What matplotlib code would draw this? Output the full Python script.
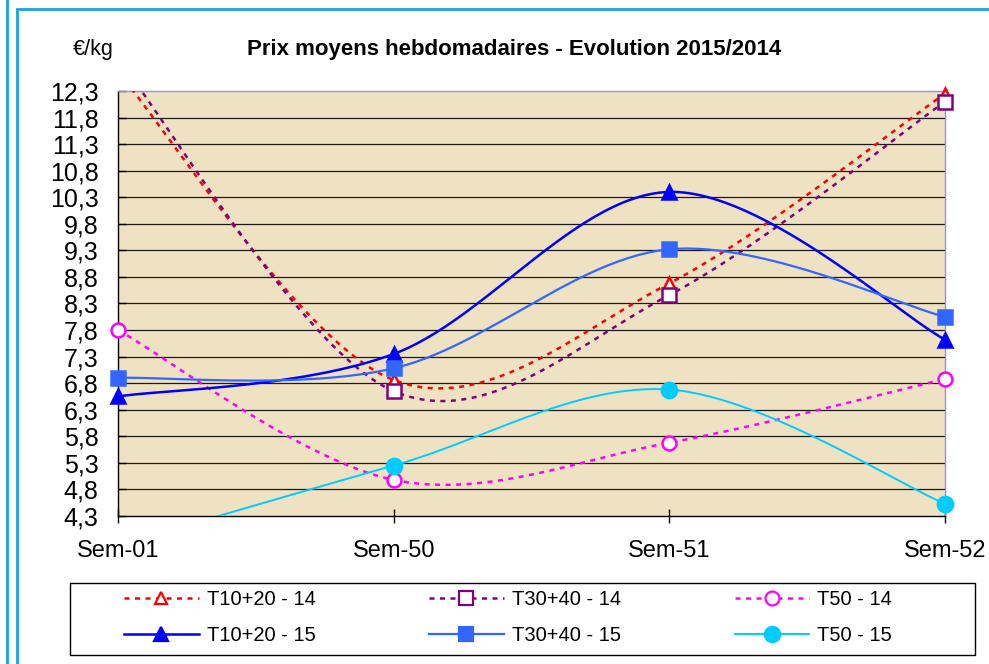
import matplotlib
matplotlib.use("Agg")
import matplotlib.pyplot as plt
from matplotlib.lines import Line2D
from matplotlib.patches import Rectangle
import numpy as np

plt.rcParams['font.family'] = ['Liberation Sans', 'DejaVu Sans']

weeks = ['Sem-01', 'Sem-50', 'Sem-51', 'Sem-52']
t1020_14 = [12.65, 6.86, 8.68, 12.25]
t3040_14 = [12.9, 6.65, 8.46, 12.1]
t50_14 = [7.8, 4.98, 5.68, 6.88]
t1020_15 = [6.55, 7.35, 10.4, 7.62]
t3040_15 = [6.9, 7.08, 9.32, 8.05]
t50_15 = [3.75, 5.25, 6.68, 4.53]

yticks = np.arange(4.3, 12.31, 0.5)
ymin, ymax = 4.3, 12.3


def smooth(y, n=60):
    # Excel-like smoothed line: bezier segments with catmull-rom tangents
    p = np.column_stack([np.arange(len(y)), y]).astype(float)
    xs, ys = [], []
    for i in range(len(p) - 1):
        p0 = p[i - 1] if i > 0 else p[i]
        p3 = p[i + 2] if i + 2 < len(p) else p[i + 1]
        c1 = p[i] + (p[i + 1] - p0) / 6
        c2 = p[i + 1] - (p3 - p[i]) / 6
        t = np.linspace(0, 1, n)[:, None]
        b = ((1 - t) ** 3) * p[i] + 3 * ((1 - t) ** 2) * t * c1 + 3 * (1 - t) * t ** 2 * c2 + t ** 3 * p[i + 1]
        xs.extend(b[:, 0])
        ys.extend(b[:, 1])
    return xs, ys


fig = plt.figure(figsize=(9.89, 6.64), dpi=100)
ax = fig.add_axes([118 / 989, 1 - 516 / 664, 827 / 989, 425 / 664])
ax.set_facecolor('#EFE2C3')

# outer blue frame
fig.add_artist(Line2D([7 / 989, 7 / 989], [0, 1], color='#1BA1E2', lw=2, transform=fig.transFigure))
fig.add_artist(Rectangle((17 / 989, -0.1), 1.2, 1 - 9 / 664 + 0.1, fill=False,
                         edgecolor='#1BA1E2', lw=2, transform=fig.transFigure))

for v in yticks[1:-1]:
    ax.axhline(v, color='#1a1a1a', lw=0.9, zorder=1)

series = [
    (t1020_14, 'T10+20 - 14', '#FF0000', (0, (2, 2.2)), 1.8, '^', 'white', 9),
    (t3040_14, 'T30+40 - 14', '#800080', (0, (2, 2.2)), 1.8, 's', 'white', 10),
    (t50_14, 'T50 - 14', '#FF00FF', (0, (2, 2.2)), 1.8, 'o', 'white', 10),
    (t1020_15, 'T10+20 - 15', '#0000FF', '-', 1.8, '^', '#0000FF', 10),
    (t3040_15, 'T30+40 - 15', '#3366FF', '-', 1.6, 's', '#3366FF', 10),
    (t50_15, 'T50 - 15', '#00CCFF', '-', 1.4, 'o', '#00CCFF', 11),
]

handles = {}
for vals, label, col, ls, lw, mk, mfc, ms in series:
    sx, sy = smooth(vals)
    ax.plot(sx, sy, color=col, ls=ls, lw=lw, zorder=3)
    # markers outside the value range are hidden, the others are drawn unclipped
    vis = np.array([v if ymin <= v <= ymax else np.nan for v in vals])
    ax.plot(range(len(vals)), vis, ls='none', marker=mk, ms=ms, mfc=mfc,
            mec=col, mew=1.8, zorder=4, clip_on=False)
    handles[label] = Line2D([], [], color=col, ls=ls, lw=lw, marker=mk, ms=ms,
                            mfc=mfc, mec=col, mew=1.6)

ax.set_xlim(0, 3)
ax.set_ylim(ymin, ymax)
ax.set_yticks(yticks)
ax.set_yticklabels([f'{v:.1f}'.replace('.', ',') for v in yticks])
ax.set_xticks(range(len(weeks)))
ax.set_xticklabels(weeks)
ax.tick_params(axis='y', direction='in', length=6, width=1, pad=14, labelsize=18)
ax.tick_params(axis='x', direction='inout', length=10, width=1, pad=12, labelsize=17)

for s in ['left', 'bottom']:
    ax.spines[s].set_color('black')
    ax.spines[s].set_linewidth(1)
for s in ['top', 'right']:
    ax.spines[s].set_color('#9090F0')
    ax.spines[s].set_linewidth(1)

fig.text(514 / 989, 1 - 50 / 664, 'Prix moyens hebdomadaires - Evolution 2015/2014',
         ha='center', va='center', fontsize=16, fontweight='bold')
fig.text(73 / 989, 1 - 50 / 664, '€/kg', ha='left', va='center', fontsize=15.5)

# legend frame drawn separately, wider than its entries
fig.add_artist(Rectangle((70 / 989, 1 - 655 / 664), 905 / 989, 72 / 664, fill=False,
                         edgecolor='black', lw=1, transform=fig.transFigure))
order = ['T10+20 - 14', 'T10+20 - 15', 'T30+40 - 14', 'T30+40 - 15', 'T50 - 14', 'T50 - 15']
leg = fig.legend([handles[k] for k in order], order, ncol=3, loc='upper left',
                 bbox_to_anchor=(124 / 989, 1 - 590 / 664), fontsize=14.5,
                 frameon=False, handlelength=3.7, labelspacing=0.85,
                 borderpad=0, borderaxespad=0, handletextpad=0.4, columnspacing=5.65)

fig.savefig('out.png', dpi=100)
